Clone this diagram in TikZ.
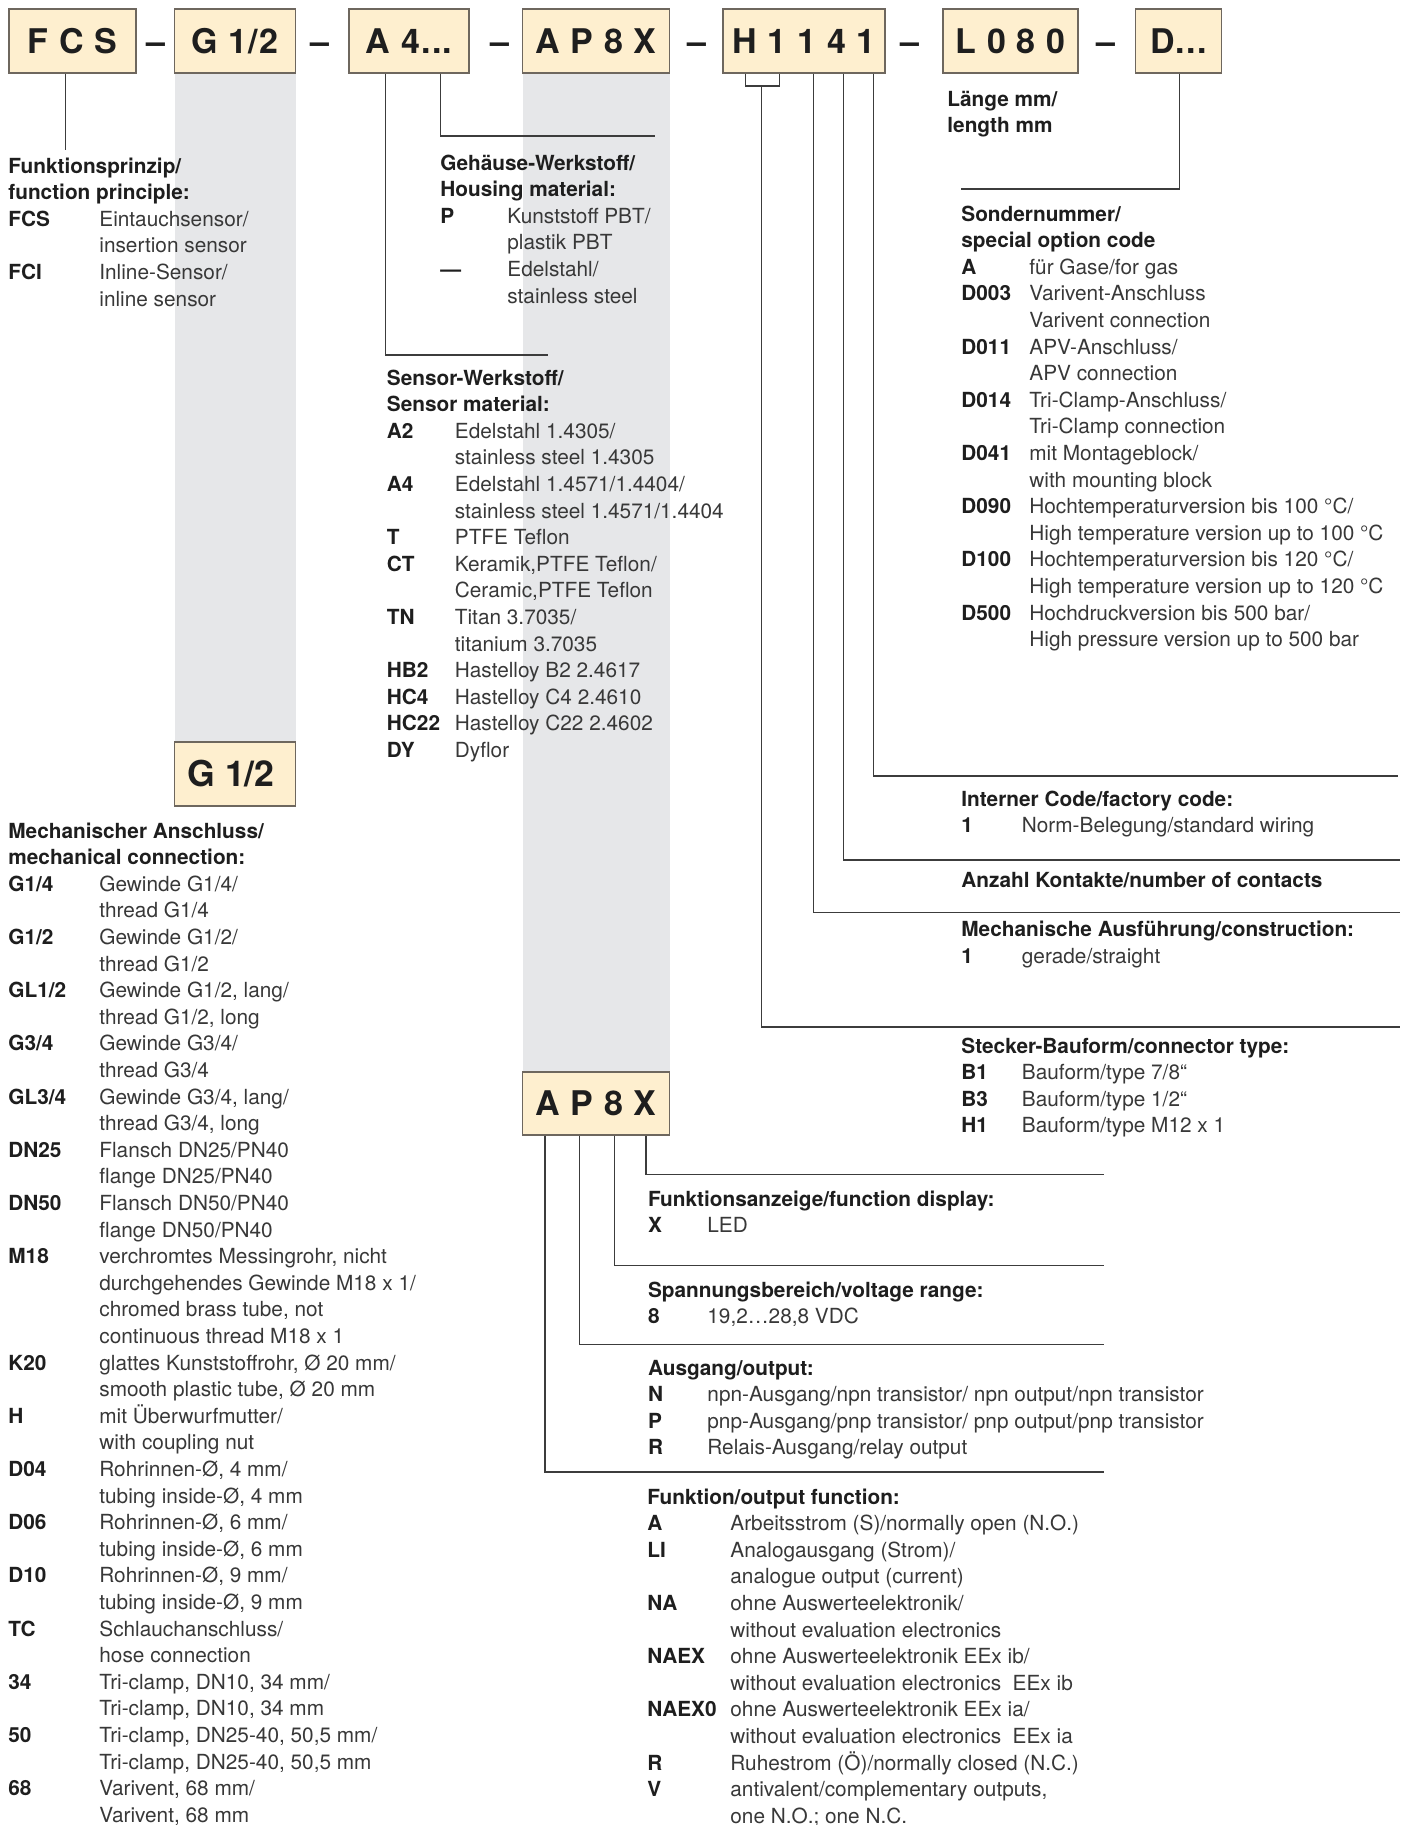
\documentclass[tikz,border=0pt]{standalone}
\usepackage{fontspec}
\setmainfont{TeX Gyre Heros}
\newfontfamily\boxfont[LetterSpace=4]{TeX Gyre Heros}
\definecolor{boxfill}{HTML}{FEEFCF}
\definecolor{boxline}{HTML}{6E675E}
\definecolor{colgray}{HTML}{E6E7E9}
\definecolor{linec}{HTML}{3C3C3C}
\definecolor{txt}{HTML}{383838}
\definecolor{hdc}{HTML}{1E1E1E}
\newlength\cw
\newcommand\kcode[2]{\makebox[\cw][l]{\bfseries\color{hdc}#1}#2}
\newcommand\kcont[1]{\hspace*{\cw}#1}
\newcommand\hdr[1]{{\bfseries\color{hdc}#1}}
\begin{document}
\begin{tikzpicture}[x=0.5pt,y=-0.5pt,
  codebox/.style={draw=boxline,fill=boxfill,line width=0.55pt,inner sep=0pt,minimum height=32pt,
    font=\boxfont\bfseries\fontsize{17pt}{18pt}\selectfont,text=hdc,text height=12.2pt,text depth=0pt},
  sepdash/.style={inner sep=0pt,font=\bfseries\fontsize{17pt}{18pt}\selectfont,text=hdc,text height=12.2pt,text depth=0pt},
  sec/.style={anchor=north west,inner sep=0pt,align=left,text=txt,
    font={\fontsize{10.4pt}{13.3pt}\selectfont\setlength\cw{#1}}},
  conn/.style={draw=linec,line width=0.55pt}]
\useasboundingbox (0,0) rectangle (1405,1825);
\clip (0,0) rectangle (1405,1825);

% grey columns
\fill[colgray] (174.5,73) rectangle (295.5,742);
\fill[colgray] (522.5,73) rectangle (669.5,1072.5);

% top code boxes
\node[codebox,minimum width=63.5pt] (fcs) at (72.5,41) {F C S};
\node[sepdash] (d1) at (155.5,41) {–};
\node[codebox,minimum width=60.5pt] (g12) at (235,41) {G 1/2};
\node[sepdash] (d2) at (320,41) {–};
\node[codebox,minimum width=60pt] (a4) at (409,41) {A 4...};
\node[sepdash] (d3) at (500,41) {–};
\node[codebox,minimum width=73.5pt] (ap8x) at (596,41) {A P 8 X};
\node[sepdash] (d4) at (697,41) {–};
\node[codebox,minimum width=81pt] (h1141) at (804,41) {H 1 1 4 1};
\node[sepdash] (d5) at (910,41) {–};
\node[codebox,minimum width=67.5pt] (l080) at (1010.5,41) {L 0 8 0};
\node[sepdash] (d6) at (1106,41) {–};
\node[codebox,minimum width=43pt] (dd) at (1178.5,41) {D...};

% second boxes
\node[codebox,minimum width=60.5pt,font=\bfseries\fontsize{17.8pt}{18pt}\selectfont,text height=12.8pt] (g12b) at (235,774) {G 1/2\kern4pt};
\node[codebox,minimum width=73.5pt,minimum height=31.5pt] (ap8xb) at (596,1103.5) {A P 8 X};

% connector coordinates
\coordinate (fpE) at (65.3,150);
\coordinate (swC) at (385.7,355);
\coordinate (swE) at (548,355);
\coordinate (ghC) at (440.5,136);
\coordinate (ghE) at (655,136);
\coordinate (brL) at (745.7,86);
\coordinate (brR) at (779.3,86);
\coordinate (cnC) at (761.7,1027);
\coordinate (cnE) at (1400,1027);
\coordinate (mfC) at (813.3,912.6);
\coordinate (mfE) at (1400,912.6);
\coordinate (akC) at (843.3,860);
\coordinate (akE) at (1400,860);
\coordinate (icC) at (873.3,776);
\coordinate (icE) at (1398,776);
\coordinate (snC) at (1179.5,189);
\coordinate (snE) at (961,189);
\coordinate (faC) at (646,1174.5);
\coordinate (faE) at (1104,1174.5);
\coordinate (spC) at (614.4,1265.5);
\coordinate (spE) at (1104,1265.5);
\coordinate (auC) at (579.6,1344.5);
\coordinate (auE) at (1104,1344.5);
\coordinate (fkC) at (545,1472);
\coordinate (fkE) at (1104,1472);

% connectors
\draw[conn] (fpE |- fcs.south) -- (fpE);
\draw[conn] (swC |- a4.south) -- (swC) -- (swE);
\draw[conn] (ghC |- a4.south) -- (ghC) -- (ghE);
\draw[conn] (brL |- h1141.south) -- (brL) -- (brR) -- (brR |- h1141.south);
\draw[conn] (cnC |- brL) -- (cnC) -- (cnE);
\draw[conn] (mfC |- h1141.south) -- (mfC) -- (mfE);
\draw[conn] (akC |- h1141.south) -- (akC) -- (akE);
\draw[conn] (icC |- h1141.south) -- (icC) -- (icE);
\draw[conn] (snC |- dd.south) -- (snC) -- (snE);
\draw[conn] (faC |- ap8xb.south) -- (faC) -- (faE);
\draw[conn] (spC |- ap8xb.south) -- (spC) -- (spE);
\draw[conn] (auC |- ap8xb.south) -- (auC) -- (auE);
\draw[conn] (fkC |- ap8xb.south) -- (fkC) -- (fkE);

% text sections
\node[sec=45.5pt] (fp) at (8,154) {%
\hdr{\strut Funktionsprinzip/}\\
\hdr{function principle:}\\
\kcode{FCS}{Eintauchsensor/}\\
\kcont{insertion sensor}\\
\kcode{FCI}{Inline-Sensor/}\\
\kcont{inline sensor}};

\node[sec=33.5pt] (gh) at (440,151) {%
\hdr{\strut Gehäuse-Werkstoff/}\\
\hdr{Housing material:}\\
\kcode{P}{Kunststoff PBT/}\\
\kcont{plastik PBT}\\
\kcode{—}{Edelstahl/}\\
\kcont{stainless steel}};

\node[sec=34pt] (sw) at (386.5,366) {%
\hdr{\strut Sensor-Werkstoff/}\\
\hdr{Sensor material:}\\
\kcode{A2}{Edelstahl 1.4305/}\\
\kcont{stainless steel 1.4305}\\
\kcode{A4}{Edelstahl 1.4571/1.4404/}\\
\kcont{stainless steel 1.4571/1.4404}\\
\kcode{T}{PTFE Teflon}\\
\kcode{CT}{Keramik,PTFE Teflon/}\\
\kcont{Ceramic,PTFE Teflon}\\
\kcode{TN}{Titan 3.7035/}\\
\kcont{titanium 3.7035}\\
\kcode{HB2}{Hastelloy B2 2.4617}\\
\kcode{HC4}{Hastelloy C4 2.4610}\\
\kcode{HC22}{Hastelloy C22 2.4602}\\
\kcode{DY}{Dyflor}};

\node[sec=45.5pt] (ma) at (8,819) {%
\hdr{\strut Mechanischer Anschluss/}\\
\hdr{mechanical connection:}\\
\kcode{G1/4}{Gewinde G1/4/}\\
\kcont{thread G1/4}\\
\kcode{G1/2}{Gewinde G1/2/}\\
\kcont{thread G1/2}\\
\kcode{GL1/2}{Gewinde G1/2, lang/}\\
\kcont{thread G1/2, long}\\
\kcode{G3/4}{Gewinde G3/4/}\\
\kcont{thread G3/4}\\
\kcode{GL3/4}{Gewinde G3/4, lang/}\\
\kcont{thread G3/4, long}\\
\kcode{DN25}{Flansch DN25/PN40}\\
\kcont{flange DN25/PN40}\\
\kcode{DN50}{Flansch DN50/PN40}\\
\kcont{flange DN50/PN40}\\
\kcode{M18}{verchromtes Messingrohr, nicht}\\
\kcont{durchgehendes Gewinde M18 x 1/}\\
\kcont{chromed brass tube, not}\\
\kcont{continuous thread M18 x 1}\\
\kcode{K20}{glattes Kunststoffrohr, Ø 20 mm/}\\
\kcont{smooth plastic tube, Ø 20 mm}\\
\kcode{H}{mit Überwurfmutter/}\\
\kcont{with coupling nut}\\
\kcode{D04}{Rohrinnen-Ø, 4 mm/}\\
\kcont{tubing inside-Ø, 4 mm}\\
\kcode{D06}{Rohrinnen-Ø, 6 mm/}\\
\kcont{tubing inside-Ø, 6 mm}\\
\kcode{D10}{Rohrinnen-Ø, 9 mm/}\\
\kcont{tubing inside-Ø, 9 mm}\\
\kcode{TC}{Schlauchanschluss/}\\
\kcont{hose connection}\\
\kcode{34}{Tri-clamp, DN10, 34 mm/}\\
\kcont{Tri-clamp, DN10, 34 mm}\\
\kcode{50}{Tri-clamp, DN25-40, 50,5 mm/}\\
\kcont{Tri-clamp, DN25-40, 50,5 mm}\\
\kcode{68}{Varivent, 68 mm/}\\
\kcont{Varivent, 68 mm}};

\node[sec=0pt] (lg) at (947,87) {%
\hdr{\strut Länge mm/}\\
\hdr{length mm}};

\node[sec=34pt] (sn) at (961,202) {%
\hdr{\strut Sondernummer/}\\
\hdr{special option code}\\
\kcode{A}{für Gase/for gas}\\
\kcode{D003}{Varivent-Anschluss}\\
\kcont{Varivent connection}\\
\kcode{D011}{APV-Anschluss/}\\
\kcont{APV connection}\\
\kcode{D014}{Tri-Clamp-Anschluss/}\\
\kcont{Tri-Clamp connection}\\
\kcode{D041}{mit Montageblock/}\\
\kcont{with mounting block}\\
\kcode{D090}{Hochtemperaturversion bis 100 °C/}\\
\kcont{High temperature version up to 100 °C}\\
\kcode{D100}{Hochtemperaturversion bis 120 °C/}\\
\kcont{High temperature version up to 120 °C}\\
\kcode{D500}{Hochdruckversion bis 500 bar/}\\
\kcont{High pressure version up to 500 bar}};

\node[sec=30.25pt] (ic) at (961,787) {%
\hdr{\strut Interner Code/factory code:}\\
\kcode{1}{Norm-Belegung/standard wiring}};

\node[sec=0pt] (ak) at (961,868) {%
\hdr{\strut Anzahl Kontakte/number of contacts}};

\node[sec=30.25pt] (mf) at (961,917.6) {%
\hdr{\strut Mechanische Ausführung/construction:}\\
\kcode{1}{gerade/straight}};

\node[sec=30.25pt] (st) at (961,1034) {%
\hdr{\strut Stecker-Bauform/connector type:}\\
\kcode{B1}{Bauform/type 7/8“}\\
\kcode{B3}{Bauform/type 1/2“}\\
\kcode{H1}{Bauform/type M12 x 1}};

\node[sec=29.7pt] (fa) at (647.6,1187) {%
\hdr{\strut Funktionsanzeige/function display:}\\
\kcode{X}{LED}};

\node[sec=29.7pt] (sp) at (647.6,1278) {%
\hdr{\strut Spannungsbereich/voltage range:}\\
\kcode{8}{19,2…28,8 VDC}};

\node[sec=29.7pt] (au) at (647.6,1356) {%
\hdr{\strut Ausgang/output:}\\
\kcode{N}{npn-Ausgang/npn transistor/ npn output/npn transistor}\\
\kcode{P}{pnp-Ausgang/pnp transistor/ pnp output/pnp transistor}\\
\kcode{R}{Relais-Ausgang/relay output}};

\node[sec=41.5pt] (fk) at (647,1485) {%
\hdr{\strut Funktion/output function:}\\
\kcode{A}{Arbeitsstrom (S)/normally open (N.O.)}\\
\kcode{LI}{Analogausgang (Strom)/}\\
\kcont{analogue output (current)}\\
\kcode{NA}{ohne Auswerteelektronik/}\\
\kcont{without evaluation electronics}\\
\kcode{NAEX}{ohne Auswerteelektronik EEx ib/}\\
\kcont{without evaluation electronics\ \ EEx ib}\\
\kcode{NAEX0}{ohne Auswerteelektronik EEx ia/}\\
\kcont{without evaluation electronics\ \ EEx ia}\\
\kcode{R}{Ruhestrom (Ö)/normally closed (N.C.)}\\
\kcode{V}{antivalent/complementary outputs,}\\
\kcont{one N.O.; one N.C.}};
\end{tikzpicture}
\end{document}
